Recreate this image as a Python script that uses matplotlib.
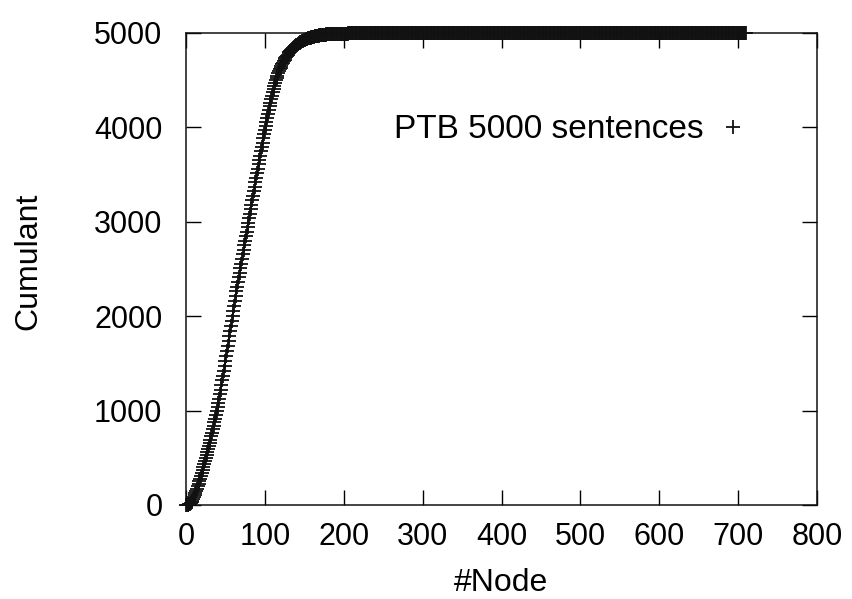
import numpy as np
import matplotlib; matplotlib.use("Agg")
import matplotlib.pyplot as plt

plt.rcParams['font.family'] = ['Liberation Sans', 'DejaVu Sans']

# sentences per node count, n = 0..200
COUNTS = [0,
    0, 1, 2, 4, 6, 8, 11, 14, 17, 20,            # 1-10
    21, 22, 23, 24, 25, 26, 27, 28, 29, 30,      # 11-20
    30, 31, 31, 32, 32, 32, 33, 33, 33, 33,      # 21-30
    34, 35, 36, 37, 38, 38, 39, 40, 41, 42,      # 31-40
    44, 45, 46, 48, 49, 50, 51, 52, 52, 53,      # 41-50
    53, 54, 53, 54, 53, 53, 52, 53, 52, 53,      # 51-60
    52, 51, 51, 50, 50, 50, 49, 50, 49, 48,      # 61-70
    49, 48, 48, 49, 48, 47, 48, 48, 47, 48,      # 71-80
    48, 47, 48, 47, 48, 47, 48, 47, 48, 47,      # 81-90
    48, 47, 47, 46, 46, 46, 45, 45, 45, 45,      # 91-100
    44, 43, 42, 41, 40, 40, 39, 38, 37, 36,      # 101-110
    34, 32, 30, 28, 27, 25, 24, 22, 20, 18,      # 111-120
    18, 17, 16, 16, 15, 15, 14, 14, 13, 12,      # 121-130
    11, 11, 10, 9, 9, 8, 8, 8, 7, 7,             # 131-140
    7, 6, 6, 6, 5, 5, 5, 5, 5, 4,                # 141-150
    4, 4, 4, 3, 3, 3, 3, 3, 3, 2,                # 151-160
    2, 2, 2, 2, 2, 2, 2, 2, 2, 1,                # 161-170
    1, 2, 1, 1, 1, 1, 1, 1, 1, 1,                # 171-180
    1, 0, 1, 0, 1, 0, 0, 1, 0, 1,                # 181-190
    0, 0, 1, 0, 0, 0, 1, 0, 0, 0]                # 191-200
# the few very long sentences
TAIL = {206: 1, 214: 1, 223: 1, 238: 1, 291: 1, 710: 1}
MAX_NODE = 710

nodes = np.arange(MAX_NODE + 1)
hist = np.zeros(MAX_NODE + 1)
hist[:len(COUNTS)] = COUNTS
for k, v in TAIL.items():
    hist[k] += v
cum = np.cumsum(hist)

fig = plt.figure(figsize=(8.52, 5.99), dpi=100)
ax = fig.add_axes([186/852, 1-505/599, 631/852, 472/599])

ln, = ax.plot(nodes, cum, ls="none", marker="+", ms=10, mew=1.3,
              color="#111111", clip_on=False, label="PTB 5000 sentences")

ax.set_xlim(0, 800); ax.set_ylim(0, 5000)
ax.set_xticks(range(0, 801, 100)); ax.set_yticks(range(0, 5001, 1000))
ax.tick_params(direction="in", length=11, width=1.0, top=True, right=True,
               labelsize=22)
ax.tick_params(axis="y", pad=17)
ax.tick_params(axis="x", pad=12)
for s in ax.spines.values():
    s.set_linewidth(1.1); s.set_color("#111")

ax.set_xlabel("#Node", fontsize=23)
ax.set_ylabel("Cumulant", fontsize=23)
ax.xaxis.set_label_coords(0.5, -0.133)
ax.yaxis.set_label_coords(-0.2266, 0.516)

ax.legend(handles=[ln], loc="center right", bbox_to_anchor=(0.894, 0.795),
          frameon=False, markerfirst=False, fontsize=24, handlelength=1.0,
          handletextpad=0.4, borderpad=0, borderaxespad=0)

fig.savefig("out.png", dpi=100)
